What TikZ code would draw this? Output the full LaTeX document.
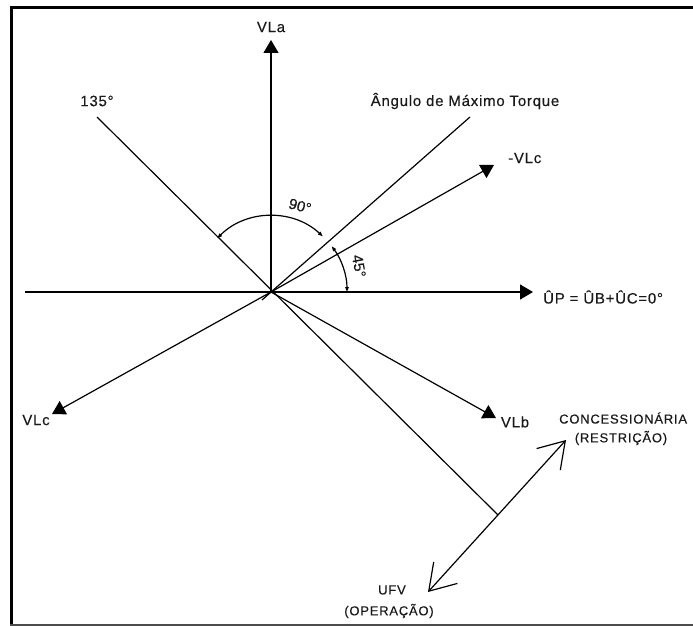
\documentclass[tikz,border=0pt]{standalone}
\usepackage{fontspec}
\setmainfont{Liberation Sans}
\newfontfamily\lblfont[LetterSpace=5,FakeBold=0.3]{Liberation Sans}
\newfontfamily\capsfont[LetterSpace=6,FakeBold=0.3]{Liberation Sans}
\newfontfamily\angfont[FakeBold=0.3]{Liberation Sans}
\usetikzlibrary{arrows.meta}
\begin{document}
\begin{tikzpicture}[x=1pt,y=-1pt,
  vec/.style={line width=1.2pt,-{Triangle[length=13pt,width=15pt]}},
  ln/.style={line width=1.2pt},
  lbl/.style={font=\lblfont\fontsize{15}{17}\selectfont, inner sep=0pt, text=black!90},
  capslbl/.style={font=\capsfont\fontsize{13}{15}\selectfont, inner sep=0pt, text=black!90},
  anglbl/.style={font=\angfont\fontsize{15}{17}\selectfont, inner sep=0pt, text=black!90},
  arcarr/.style={line width=1.2pt,{Triangle[length=5pt,width=3.5pt]}-{Triangle[length=5pt,width=3.5pt]}},
  barbline/.style={line width=1.2pt,{Straight Barb[length=25pt,width=32pt]}-{Straight Barb[length=25pt,width=32pt]}}
]
\useasboundingbox (0,0) rectangle (693,626);
% frame
\draw[line width=3pt] (11.5,626) -- (11.5,7.5) -- (693,7.5);
\draw[line width=2pt, black!70] (10,624.5) -- (693,624.5);
% points
\coordinate (O) at (271,292);
\coordinate (H0) at (25,292);
\coordinate (HP) at (533,292);
\coordinate (A) at (271,40);
\coordinate (P135) at (97,117);
\coordinate (J) at (498,515);
\coordinate (MT0) at (262,300);
\coordinate (MT) at (470,117);
\coordinate (NC) at (494,165);
\coordinate (C) at (52,414);
\coordinate (B) at (496,418);
\coordinate (UF) at (428,592);
\coordinate (CO) at (566,440);
% lines
\draw[vec] (H0) -- (HP);
\draw[vec] (O) -- (A);
\draw[ln] (P135) -- (J);
\draw[ln] (MT0) -- (MT);
\draw[vec] (O) -- (NC);
\draw[vec] (O) -- (C);
\draw[vec] (O) -- (B);
\draw[barbline] (UF) -- (CO);
% angle arcs
\draw[arcarr] ([shift={(-135:76)}]O) arc[start angle=-135, end angle=-47, radius=76];
\draw[arcarr] ([shift={(-37:76)}]O) arc[start angle=-37, end angle=0, radius=76];
% labels
\node[lbl] (tA) at (271,27) {VLa};
\node[lbl] (t135) at (97,101) {135°};
\node[lbl] (tMT) at (465,101) {Ângulo de Máximo Torque};
\node[lbl, anchor=west] (tNC) at (508,158) {-VLc};
\node[lbl, anchor=west] (tP) at (543,297) {ÛP = ÛB+ÛC=0°};
\node[lbl] (tC) at (36,420) {VLc};
\node[lbl] (tB) at (515,422) {VLb};
\node[capslbl, anchor=west] (tCO) at (559,418) {CONCESSIONÁRIA};
\node[capslbl] (tR) at (621,438) {(RESTRIÇÃO)};
\node[capslbl] (tU) at (392,590) {UFV};
\node[capslbl] (tOp) at (389,611) {(OPERAÇÃO)};
\node[anglbl, rotate=-15] (t90) at (300,206) {90°};
\node[anglbl, rotate=-80] (t45) at (359,266) {45°};
\end{tikzpicture}
\end{document}
